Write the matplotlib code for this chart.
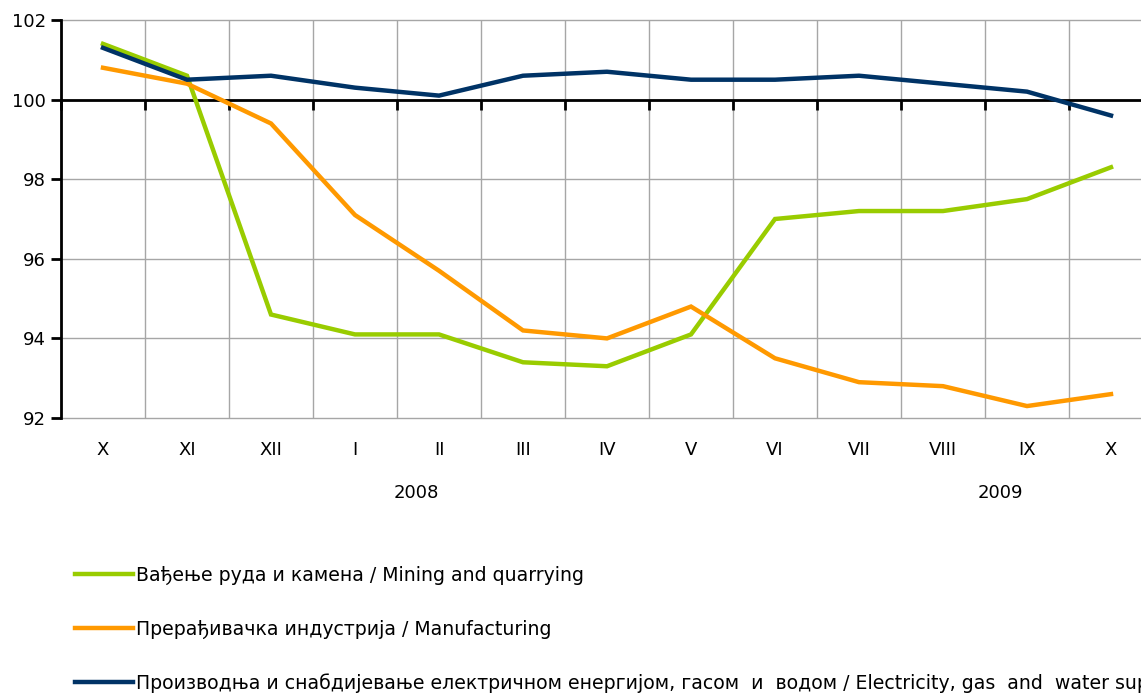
import matplotlib
matplotlib.use('Agg')
import matplotlib.pyplot as plt
from matplotlib.lines import Line2D
import matplotlib.transforms as mtransforms

months = ["X", "XI", "XII", "I", "II", "III", "IV", "V", "VI", "VII", "VIII", "IX", "X"]
years = ["2008", "2009"]
year_pos = [3.73, 10.68]

mining = [101.4, 100.6, 94.6, 94.1, 94.1, 93.4, 93.3, 94.1, 97.0, 97.2, 97.2, 97.5, 98.3]
manufacturing = [100.8, 100.4, 99.4, 97.1, 95.7, 94.2, 94.0, 94.8, 93.5, 92.9, 92.8, 92.3, 92.6]
electricity = [101.3, 100.5, 100.6, 100.3, 100.1, 100.6, 100.7, 100.5, 100.5, 100.6, 100.4, 100.2, 99.6]

labels = ["Вађење руда и камена / Mining and quarrying",
          "Прерађивачка индустрија / Manufacturing",
          "Производња и снабдијевање електричном енергијом, гасом  и  водом / Electricity, gas  and  water supply"]
colors = ["#99CC00", "#FF9900", "#003366"]

W, H = 1141, 693
fig = plt.figure(figsize=(W/100, H/100), dpi=100)
# axes runs past the right edge of the picture, as in the original
ax = fig.add_axes([61/W, 1-418/H, 1092/W, 398/H])

x = list(range(len(months)))
for ys, c in zip([mining, manufacturing, electricity], colors):
    ax.plot(x, ys, color=c, lw=3.2, solid_joinstyle='miter', zorder=3)

ax.set_xlim(-0.5, len(months)-0.5)
ax.set_ylim(92, 102)
ax.set_yticks([92, 94, 96, 98, 100, 102])
ax.set_xticks([i-0.5 for i in range(len(months)+1)])
ax.set_xticklabels([])
ax.grid(True, color='#A6A6A6', lw=1)
for gl in ax.get_ygridlines():
    gl.set_clip_on(False)
ax.set_axisbelow(True)

for s in ['top', 'right']:
    ax.spines[s].set_visible(False)
ax.spines['left'].set_linewidth(2)
ax.spines['bottom'].set_position(('data', 100))
ax.spines['bottom'].set_linewidth(2)
ax.tick_params(axis='x', direction='out', length=7, width=2, color='black')
ax.tick_params(axis='y', direction='out', length=7, width=2, pad=4, labelsize=13)
ax.spines['bottom'].set_zorder(2)

trans = mtransforms.blended_transform_factory(ax.transData, ax.transAxes)
off = mtransforms.ScaledTranslation(0, -32/100, fig.dpi_scale_trans)
for i, m in enumerate(months):
    ax.text(i, 0, m, transform=trans + off, ha='center', va='center', fontsize=13)
off2 = mtransforms.ScaledTranslation(0, -75/100, fig.dpi_scale_trans)
for p, yr in zip(year_pos, years):
    ax.text(p, 0, yr, transform=trans + off2, ha='center', va='center', fontsize=13)

handles = [Line2D([], [], color=c, lw=3.2) for c in colors]
fig.legend(handles, labels, loc='upper left', bbox_to_anchor=(75/W, 1-566/H),
           frameon=False, fontsize=13.6, handlelength=3.05, handletextpad=0.2,
           labelspacing=1.83, borderpad=0, borderaxespad=0)

fig.savefig('out.png', dpi=100)
